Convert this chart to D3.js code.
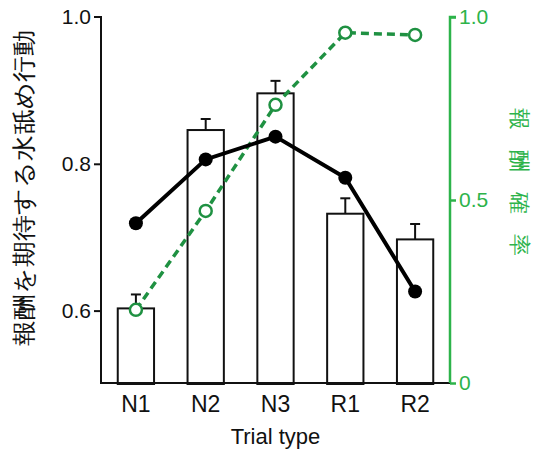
<!DOCTYPE html>
<html>
<head>
<meta charset="utf-8">
<script src="https://cdn.jsdelivr.net/npm/d3@7"></script>
<style>
  body { margin: 0; background: #fff; }
  text { font-family: "Liberation Sans", Arial, sans-serif; }
</style>
</head>
<body>
<div id="chart"></div>
<script>
const categories = ["N1", "N2", "N3", "R1", "R2"];
const barValues = [0.603, 0.846, 0.896, 0.732, 0.697];
const barErrors = [0.019, 0.015, 0.017, 0.021, 0.021];
const lickValues = [0.719, 0.806, 0.837, 0.781, 0.626];
const probValues = [0.20, 0.47, 0.76, 0.957, 0.951];
const leftTicks = [0.6, 0.8, 1.0];
const rightTicks = [0, 0.5, 1.0];

const W = 535, H = 455;
const green = "#2db34a", greenLine = "#1f9142";

const svg = d3.select("#chart").append("svg").attr("width", W).attr("height", H);

const x = d3.scaleBand().domain(categories).range([101, 450]).paddingInner(0.48).paddingOuter(0.24);
const yL = d3.scaleLinear().domain([0.5, 1.0]).range([384, 17]);
const yR = d3.scaleLinear().domain([0, 1]).range([383, 17]);
const cx = d => x(d) + x.bandwidth() / 2;

// bars
svg.append("g").selectAll("rect").data(categories).join("rect")
  .attr("x", d => x(d))
  .attr("y", (d, i) => yL(barValues[i]))
  .attr("width", x.bandwidth())
  .attr("height", (d, i) => yL(0.5) - yL(barValues[i]))
  .attr("fill", "#fff").attr("stroke", "#111").attr("stroke-width", 2);

// error bars
const eb = svg.append("g").attr("stroke", "#111").attr("stroke-width", 2);
categories.forEach((c, i) => {
  const top = yL(barValues[i] + barErrors[i]);
  eb.append("line").attr("x1", cx(c)).attr("x2", cx(c)).attr("y1", yL(barValues[i])).attr("y2", top);
  eb.append("line").attr("x1", cx(c) - 5).attr("x2", cx(c) + 5).attr("y1", top).attr("y2", top);
});

// green probability line
svg.append("path").datum(categories)
  .attr("fill", "none").attr("stroke", greenLine).attr("stroke-width", 3.5)
  .attr("stroke-dasharray", "8,5")
  .attr("d", d3.line().x(d => cx(d)).y((d, i) => yR(probValues[i])));

// black licking line
svg.append("path").datum(categories)
  .attr("fill", "none").attr("stroke", "#000").attr("stroke-width", 4)
  .attr("d", d3.line().x(d => cx(d)).y((d, i) => yL(lickValues[i])));

svg.append("g").selectAll("circle").data(categories).join("circle")
  .attr("cx", cx).attr("cy", (d, i) => yR(probValues[i])).attr("r", 6)
  .attr("fill", "#fff").attr("stroke", greenLine).attr("stroke-width", 2.5);

svg.append("g").selectAll("circle").data(categories).join("circle")
  .attr("cx", cx).attr("cy", (d, i) => yL(lickValues[i])).attr("r", 7)
  .attr("fill", "#000");

// axes
const axL = svg.append("g").attr("transform", "translate(101,0)")
  .call(d3.axisLeft(yL).tickValues(leftTicks).tickFormat(d3.format(".1f")).tickSize(7).tickPadding(3));
axL.select(".domain").attr("d", "M-7,17H0V384").attr("stroke", "#111").attr("stroke-width", 2);
axL.selectAll(".tick line").attr("stroke", "#111").attr("stroke-width", 2);
axL.selectAll(".tick text").attr("font-size", 21).attr("fill", "#111")
  .attr("font-family", "Liberation Sans, Arial, sans-serif");
axL.selectAll(".tick").filter(d => d === 1.0).select("line").remove();

svg.append("line").attr("x1", 100).attr("x2", 450).attr("y1", 383).attr("y2", 383)
  .attr("stroke", "#111").attr("stroke-width", 2);

const axB = svg.append("g").attr("transform", "translate(0,383)")
  .call(d3.axisBottom(x).tickSize(0).tickPadding(13));
axB.select(".domain").remove();
axB.selectAll(".tick text").attr("font-size", 23).attr("fill", "#111")
  .attr("font-family", "Liberation Sans, Arial, sans-serif");

const axR = svg.append("g").attr("transform", "translate(450,0)")
  .call(d3.axisRight(yR).tickValues(rightTicks).tickFormat(d => d === 0 ? "0" : d3.format(".1f")(d)).tickSize(6).tickPadding(3));
axR.select(".domain").attr("d", "M0,383V17H6").attr("stroke", green).attr("stroke-width", 2.5);
axR.selectAll(".tick line").attr("stroke", green).attr("stroke-width", 2.5);
axR.selectAll(".tick text").attr("font-size", 21).attr("fill", green)
  .attr("font-family", "Liberation Sans, Arial, sans-serif");

// axis titles
svg.append("text").attr("x", (101 + 450) / 2).attr("y", 444).attr("text-anchor", "middle")
  .attr("font-size", 22).attr("fill", "#111").text("Trial type");

svg.append("text")
  .attr("transform", "translate(32,188) rotate(-90)")
  .attr("text-anchor", "middle")
  .attr("font-family", "Noto Sans CJK JP").attr("font-size", 24)
  .attr("textLength", 315).attr("lengthAdjust", "spacingAndGlyphs")
  .attr("fill", "#111").text("報酬を期待する水舐め行動");

svg.append("text")
  .attr("transform", "translate(512,192) rotate(90)")
  .attr("text-anchor", "middle")
  .attr("font-family", "Noto Sans CJK JP").attr("font-size", 22)
  .attr("letter-spacing", 20)
  .attr("fill", green).text("報酬確率");
</script>
</body>
</html>
